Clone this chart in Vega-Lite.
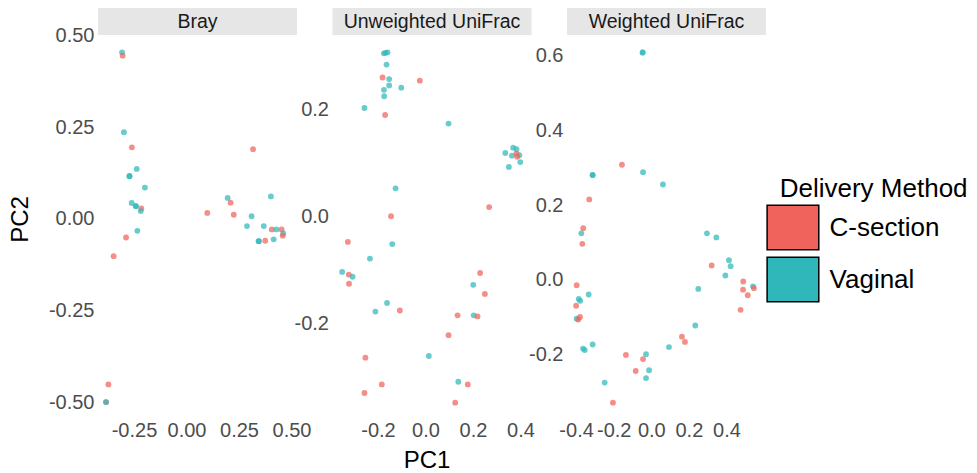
{
  "$schema": "https://vega.github.io/schema/vega-lite/v6.json",
  "padding": {"left": 8, "top": 8, "right": 0, "bottom": 6},
  "config": {
    "font": "Liberation Sans",
    "view": {"stroke": null},
    "axis": {"grid": false, "domain": false, "ticks": false, "tickSize": 0, "labelFontSize": 20, "labelColor": "#4d4d4d", "labelFont": "Liberation Sans", "titleFont": "Liberation Sans", "titleFontSize": 24, "titleColor": "#000000", "titleFontWeight": "normal", "labelOverlap": false, "labelFlush": false, "labelPadding": 4},
    "axisX": {"labelPadding": 0}
  },
  "datasets": {
    "panels": [{"metric": "Bray"}, {"metric": "Unweighted UniFrac"}, {"metric": "Weighted UniFrac"}],
    "pts": [
      {"metric": "Bray", "PC1": -0.307, "PC2": 0.454, "method": "Vaginal"},
      {"metric": "Bray", "PC1": -0.304, "PC2": 0.445, "method": "C-section"},
      {"metric": "Bray", "PC1": -0.298, "PC2": 0.236, "method": "Vaginal"},
      {"metric": "Bray", "PC1": -0.26, "PC2": 0.195, "method": "C-section"},
      {"metric": "Bray", "PC1": -0.272, "PC2": 0.116, "method": "Vaginal"},
      {"metric": "Bray", "PC1": -0.271, "PC2": 0.117, "method": "Vaginal"},
      {"metric": "Bray", "PC1": -0.237, "PC2": 0.136, "method": "Vaginal"},
      {"metric": "Bray", "PC1": -0.198, "PC2": 0.085, "method": "Vaginal"},
      {"metric": "Bray", "PC1": -0.261, "PC2": 0.043, "method": "Vaginal"},
      {"metric": "Bray", "PC1": -0.242, "PC2": 0.035, "method": "Vaginal"},
      {"metric": "Bray", "PC1": -0.24, "PC2": 0.034, "method": "Vaginal"},
      {"metric": "Bray", "PC1": -0.215, "PC2": 0.028, "method": "C-section"},
      {"metric": "Bray", "PC1": -0.218, "PC2": 0.021, "method": "Vaginal"},
      {"metric": "Bray", "PC1": -0.234, "PC2": -0.033, "method": "Vaginal"},
      {"metric": "Bray", "PC1": -0.288, "PC2": -0.051, "method": "C-section"},
      {"metric": "Bray", "PC1": -0.347, "PC2": -0.102, "method": "C-section"},
      {"metric": "Bray", "PC1": -0.372, "PC2": -0.452, "method": "C-section"},
      {"metric": "Bray", "PC1": -0.383, "PC2": -0.5, "method": "C-section"},
      {"metric": "Bray", "PC1": -0.383, "PC2": -0.5, "method": "Vaginal"},
      {"metric": "Bray", "PC1": 0.317, "PC2": 0.19, "method": "C-section"},
      {"metric": "Bray", "PC1": 0.099, "PC2": 0.016, "method": "C-section"},
      {"metric": "Bray", "PC1": 0.196, "PC2": 0.057, "method": "Vaginal"},
      {"metric": "Bray", "PC1": 0.21, "PC2": 0.044, "method": "C-section"},
      {"metric": "Bray", "PC1": 0.225, "PC2": 0.011, "method": "C-section"},
      {"metric": "Bray", "PC1": 0.402, "PC2": 0.061, "method": "Vaginal"},
      {"metric": "Bray", "PC1": 0.31, "PC2": 0.007, "method": "Vaginal"},
      {"metric": "Bray", "PC1": 0.288, "PC2": -0.02, "method": "Vaginal"},
      {"metric": "Bray", "PC1": 0.368, "PC2": -0.02, "method": "Vaginal"},
      {"metric": "Bray", "PC1": 0.406, "PC2": -0.029, "method": "C-section"},
      {"metric": "Bray", "PC1": 0.428, "PC2": -0.029, "method": "Vaginal"},
      {"metric": "Bray", "PC1": 0.453, "PC2": -0.029, "method": "C-section"},
      {"metric": "Bray", "PC1": 0.461, "PC2": -0.04, "method": "Vaginal"},
      {"metric": "Bray", "PC1": 0.458, "PC2": -0.046, "method": "C-section"},
      {"metric": "Bray", "PC1": 0.345, "PC2": -0.061, "method": "Vaginal"},
      {"metric": "Bray", "PC1": 0.343, "PC2": -0.061, "method": "Vaginal"},
      {"metric": "Bray", "PC1": 0.375, "PC2": -0.06, "method": "C-section"},
      {"metric": "Bray", "PC1": 0.415, "PC2": -0.056, "method": "Vaginal"},
      {"metric": "Unweighted UniFrac", "PC1": -0.175, "PC2": 0.305, "method": "Vaginal"},
      {"metric": "Unweighted UniFrac", "PC1": -0.168, "PC2": 0.306, "method": "Vaginal"},
      {"metric": "Unweighted UniFrac", "PC1": -0.16, "PC2": 0.307, "method": "Vaginal"},
      {"metric": "Unweighted UniFrac", "PC1": -0.164, "PC2": 0.284, "method": "Vaginal"},
      {"metric": "Unweighted UniFrac", "PC1": -0.181, "PC2": 0.26, "method": "C-section"},
      {"metric": "Unweighted UniFrac", "PC1": -0.024, "PC2": 0.254, "method": "C-section"},
      {"metric": "Unweighted UniFrac", "PC1": -0.153, "PC2": 0.257, "method": "Vaginal"},
      {"metric": "Unweighted UniFrac", "PC1": -0.153, "PC2": 0.245, "method": "Vaginal"},
      {"metric": "Unweighted UniFrac", "PC1": -0.175, "PC2": 0.237, "method": "Vaginal"},
      {"metric": "Unweighted UniFrac", "PC1": -0.102, "PC2": 0.241, "method": "Vaginal"},
      {"metric": "Unweighted UniFrac", "PC1": -0.174, "PC2": 0.225, "method": "Vaginal"},
      {"metric": "Unweighted UniFrac", "PC1": -0.257, "PC2": 0.203, "method": "Vaginal"},
      {"metric": "Unweighted UniFrac", "PC1": -0.17, "PC2": 0.19, "method": "C-section"},
      {"metric": "Unweighted UniFrac", "PC1": 0.097, "PC2": 0.174, "method": "Vaginal"},
      {"metric": "Unweighted UniFrac", "PC1": 0.336, "PC2": 0.119, "method": "Vaginal"},
      {"metric": "Unweighted UniFrac", "PC1": 0.369, "PC2": 0.129, "method": "Vaginal"},
      {"metric": "Unweighted UniFrac", "PC1": 0.383, "PC2": 0.126, "method": "Vaginal"},
      {"metric": "Unweighted UniFrac", "PC1": 0.364, "PC2": 0.114, "method": "Vaginal"},
      {"metric": "Unweighted UniFrac", "PC1": 0.395, "PC2": 0.115, "method": "Vaginal"},
      {"metric": "Unweighted UniFrac", "PC1": 0.383, "PC2": 0.118, "method": "C-section"},
      {"metric": "Unweighted UniFrac", "PC1": 0.386, "PC2": 0.112, "method": "C-section"},
      {"metric": "Unweighted UniFrac", "PC1": 0.399, "PC2": 0.102, "method": "Vaginal"},
      {"metric": "Unweighted UniFrac", "PC1": 0.351, "PC2": 0.093, "method": "Vaginal"},
      {"metric": "Unweighted UniFrac", "PC1": -0.126, "PC2": 0.053, "method": "Vaginal"},
      {"metric": "Unweighted UniFrac", "PC1": 0.268, "PC2": 0.018, "method": "C-section"},
      {"metric": "Unweighted UniFrac", "PC1": -0.145, "PC2": 0.001, "method": "C-section"},
      {"metric": "Unweighted UniFrac", "PC1": -0.327, "PC2": -0.047, "method": "C-section"},
      {"metric": "Unweighted UniFrac", "PC1": -0.14, "PC2": -0.051, "method": "Vaginal"},
      {"metric": "Unweighted UniFrac", "PC1": -0.234, "PC2": -0.078, "method": "Vaginal"},
      {"metric": "Unweighted UniFrac", "PC1": -0.351, "PC2": -0.103, "method": "Vaginal"},
      {"metric": "Unweighted UniFrac", "PC1": -0.323, "PC2": -0.108, "method": "C-section"},
      {"metric": "Unweighted UniFrac", "PC1": -0.307, "PC2": -0.112, "method": "Vaginal"},
      {"metric": "Unweighted UniFrac", "PC1": -0.322, "PC2": -0.125, "method": "C-section"},
      {"metric": "Unweighted UniFrac", "PC1": -0.162, "PC2": -0.161, "method": "Vaginal"},
      {"metric": "Unweighted UniFrac", "PC1": -0.211, "PC2": -0.177, "method": "Vaginal"},
      {"metric": "Unweighted UniFrac", "PC1": -0.108, "PC2": -0.175, "method": "C-section"},
      {"metric": "Unweighted UniFrac", "PC1": 0.23, "PC2": -0.105, "method": "C-section"},
      {"metric": "Unweighted UniFrac", "PC1": 0.201, "PC2": -0.127, "method": "Vaginal"},
      {"metric": "Unweighted UniFrac", "PC1": 0.25, "PC2": -0.144, "method": "C-section"},
      {"metric": "Unweighted UniFrac", "PC1": 0.135, "PC2": -0.184, "method": "C-section"},
      {"metric": "Unweighted UniFrac", "PC1": 0.203, "PC2": -0.184, "method": "Vaginal"},
      {"metric": "Unweighted UniFrac", "PC1": 0.219, "PC2": -0.186, "method": "C-section"},
      {"metric": "Unweighted UniFrac", "PC1": 0.097, "PC2": -0.221, "method": "C-section"},
      {"metric": "Unweighted UniFrac", "PC1": -0.253, "PC2": -0.263, "method": "C-section"},
      {"metric": "Unweighted UniFrac", "PC1": 0.014, "PC2": -0.26, "method": "Vaginal"},
      {"metric": "Unweighted UniFrac", "PC1": 0.138, "PC2": -0.308, "method": "Vaginal"},
      {"metric": "Unweighted UniFrac", "PC1": 0.178, "PC2": -0.313, "method": "C-section"},
      {"metric": "Unweighted UniFrac", "PC1": -0.184, "PC2": -0.313, "method": "C-section"},
      {"metric": "Unweighted UniFrac", "PC1": -0.257, "PC2": -0.329, "method": "C-section"},
      {"metric": "Unweighted UniFrac", "PC1": 0.125, "PC2": -0.347, "method": "C-section"},
      {"metric": "Weighted UniFrac", "PC1": -0.046, "PC2": 0.608, "method": "Vaginal"},
      {"metric": "Weighted UniFrac", "PC1": -0.046, "PC2": 0.61, "method": "Vaginal"},
      {"metric": "Weighted UniFrac", "PC1": -0.156, "PC2": 0.308, "method": "C-section"},
      {"metric": "Weighted UniFrac", "PC1": -0.312, "PC2": 0.281, "method": "Vaginal"},
      {"metric": "Weighted UniFrac", "PC1": -0.312, "PC2": 0.28, "method": "Vaginal"},
      {"metric": "Weighted UniFrac", "PC1": -0.044, "PC2": 0.288, "method": "Vaginal"},
      {"metric": "Weighted UniFrac", "PC1": 0.062, "PC2": 0.255, "method": "Vaginal"},
      {"metric": "Weighted UniFrac", "PC1": -0.33, "PC2": 0.215, "method": "C-section"},
      {"metric": "Weighted UniFrac", "PC1": -0.362, "PC2": 0.138, "method": "C-section"},
      {"metric": "Weighted UniFrac", "PC1": -0.372, "PC2": 0.124, "method": "Vaginal"},
      {"metric": "Weighted UniFrac", "PC1": 0.296, "PC2": 0.124, "method": "Vaginal"},
      {"metric": "Weighted UniFrac", "PC1": 0.346, "PC2": 0.113, "method": "Vaginal"},
      {"metric": "Weighted UniFrac", "PC1": -0.367, "PC2": 0.096, "method": "C-section"},
      {"metric": "Weighted UniFrac", "PC1": 0.413, "PC2": 0.052, "method": "Vaginal"},
      {"metric": "Weighted UniFrac", "PC1": 0.422, "PC2": 0.036, "method": "Vaginal"},
      {"metric": "Weighted UniFrac", "PC1": 0.321, "PC2": 0.038, "method": "C-section"},
      {"metric": "Weighted UniFrac", "PC1": 0.394, "PC2": 0.011, "method": "Vaginal"},
      {"metric": "Weighted UniFrac", "PC1": 0.489, "PC2": -0.005, "method": "C-section"},
      {"metric": "Weighted UniFrac", "PC1": 0.541, "PC2": -0.018, "method": "Vaginal"},
      {"metric": "Weighted UniFrac", "PC1": 0.488, "PC2": -0.027, "method": "C-section"},
      {"metric": "Weighted UniFrac", "PC1": 0.546, "PC2": -0.023, "method": "C-section"},
      {"metric": "Weighted UniFrac", "PC1": 0.513, "PC2": -0.042, "method": "C-section"},
      {"metric": "Weighted UniFrac", "PC1": 0.475, "PC2": -0.081, "method": "C-section"},
      {"metric": "Weighted UniFrac", "PC1": 0.25, "PC2": -0.025, "method": "Vaginal"},
      {"metric": "Weighted UniFrac", "PC1": -0.397, "PC2": -0.015, "method": "C-section"},
      {"metric": "Weighted UniFrac", "PC1": -0.333, "PC2": -0.04, "method": "Vaginal"},
      {"metric": "Weighted UniFrac", "PC1": -0.386, "PC2": -0.052, "method": "Vaginal"},
      {"metric": "Weighted UniFrac", "PC1": -0.378, "PC2": -0.057, "method": "Vaginal"},
      {"metric": "Weighted UniFrac", "PC1": -0.4, "PC2": -0.07, "method": "C-section"},
      {"metric": "Weighted UniFrac", "PC1": -0.397, "PC2": -0.105, "method": "Vaginal"},
      {"metric": "Weighted UniFrac", "PC1": -0.379, "PC2": -0.1, "method": "C-section"},
      {"metric": "Weighted UniFrac", "PC1": -0.388, "PC2": -0.107, "method": "C-section"},
      {"metric": "Weighted UniFrac", "PC1": -0.312, "PC2": -0.174, "method": "Vaginal"},
      {"metric": "Weighted UniFrac", "PC1": -0.363, "PC2": -0.185, "method": "Vaginal"},
      {"metric": "Weighted UniFrac", "PC1": -0.354, "PC2": -0.189, "method": "Vaginal"},
      {"metric": "Weighted UniFrac", "PC1": 0.234, "PC2": -0.123, "method": "Vaginal"},
      {"metric": "Weighted UniFrac", "PC1": 0.163, "PC2": -0.153, "method": "C-section"},
      {"metric": "Weighted UniFrac", "PC1": 0.179, "PC2": -0.167, "method": "C-section"},
      {"metric": "Weighted UniFrac", "PC1": 0.094, "PC2": -0.181, "method": "Vaginal"},
      {"metric": "Weighted UniFrac", "PC1": -0.135, "PC2": -0.202, "method": "C-section"},
      {"metric": "Weighted UniFrac", "PC1": -0.028, "PC2": -0.2, "method": "Vaginal"},
      {"metric": "Weighted UniFrac", "PC1": -0.044, "PC2": -0.213, "method": "C-section"},
      {"metric": "Weighted UniFrac", "PC1": -0.012, "PC2": -0.243, "method": "Vaginal"},
      {"metric": "Weighted UniFrac", "PC1": -0.083, "PC2": -0.245, "method": "C-section"},
      {"metric": "Weighted UniFrac", "PC1": -0.028, "PC2": -0.264, "method": "Vaginal"},
      {"metric": "Weighted UniFrac", "PC1": -0.248, "PC2": -0.276, "method": "Vaginal"},
      {"metric": "Weighted UniFrac", "PC1": -0.204, "PC2": -0.33, "method": "C-section"}
    ]
  },
  "columns": 3,
  "bounds": "flush",
  "spacing": {"row": 0, "column": 35.5},
  "concat": [
    {"width": 199, "height": 27, "data": {"name": "panels"}, "transform": [{"filter": "datum.metric === 'Bray'"}], "view": {"fill": "#e6e6e6", "stroke": null}, "mark": {"type": "text", "fontSize": 19.5, "color": "#1a1a1a", "font": "Liberation Sans"}, "encoding": {"text": {"field": "metric", "type": "nominal"}}},
    {"width": 199, "height": 27, "data": {"name": "panels"}, "transform": [{"filter": "datum.metric === 'Unweighted UniFrac'"}], "view": {"fill": "#e6e6e6", "stroke": null}, "mark": {"type": "text", "fontSize": 19.5, "color": "#1a1a1a", "font": "Liberation Sans"}, "encoding": {"text": {"field": "metric", "type": "nominal"}}},
    {"width": 199, "height": 27, "data": {"name": "panels"}, "transform": [{"filter": "datum.metric === 'Weighted UniFrac'"}], "view": {"fill": "#e6e6e6", "stroke": null}, "mark": {"type": "text", "fontSize": 19.5, "color": "#1a1a1a", "font": "Liberation Sans"}, "encoding": {"text": {"field": "metric", "type": "nominal"}}},
    {
      "width": 199, "height": 385,
      "data": {"name": "pts"},
      "transform": [{"filter": "datum.metric === 'Bray'"}],
      "mark": {"type": "circle", "size": 34, "opacity": 0.72},
      "encoding": {
        "x": {"field": "PC1", "type": "quantitative", "scale": {"domain": [-0.4214, 0.5262], "nice": false, "zero": false}, "axis": {"title": null, "values": [-0.25, 0, 0.25, 0.5], "labelExpr": "replace(format(datum.value, '.2f'), '\u2212', '-')"}},
        "y": {"field": "PC2", "type": "quantitative", "scale": {"domain": [-0.549, 0.5014], "nice": false, "zero": false}, "axis": {"title": "PC2", "titleY": 184, "titlePadding": 16, "values": [-0.5, -0.25, 0, 0.25, 0.5], "labelExpr": "replace(format(datum.value, '.2f'), '\u2212', '-')"}},
        "color": {"field": "method", "type": "nominal", "scale": {"domain": ["C-section", "Vaginal"], "range": ["#F0625C", "#30B7BA"]},
          "legend": {"orient": "none", "legendX": 681.7, "legendY": 167.5, "title": "Delivery Method", "titleLimit": 400, "titleFontSize": 26, "titleFontWeight": "normal", "titleColor": "#000000", "titleFont": "Liberation Sans", "titlePadding": 3, "labelFontSize": 26, "labelLimit": 300, "labelColor": "#000000", "labelFont": "Liberation Sans", "labelOffset": 13.6, "symbolType": "M-1.164,-1H1.164V1H-1.164Z", "symbolSize": 1971, "symbolOpacity": 1, "symbolOffset": -9.75, "rowPadding": 0,
            "encode": {"symbols": {"update": {"stroke": {"value": "#000000"}, "strokeWidth": {"value": 1.5}, "opacity": {"value": 1}}}}}}
      }
    },
    {
      "width": 199, "height": 385,
      "data": {"name": "pts"},
      "transform": [{"filter": "datum.metric === 'Unweighted UniFrac'"}],
      "mark": {"type": "circle", "size": 34, "opacity": 0.72},
      "encoding": {
        "x": {"field": "PC1", "type": "quantitative", "scale": {"domain": [-0.3916, 0.4463], "nice": false, "zero": false}, "axis": {"title": "PC1", "titleX": 94, "titlePadding": 8, "values": [-0.2, 0, 0.2, 0.4], "labelExpr": "replace(format(datum.value, '.1f'), '\u2212', '-')"}},
        "y": {"field": "PC2", "type": "quantitative", "scale": {"domain": [-0.3794, 0.3393], "nice": false, "zero": false}, "axis": {"title": null, "values": [-0.2, 0, 0.2], "labelExpr": "replace(format(datum.value, '.1f'), '\u2212', '-')"}},
        "color": {"field": "method", "type": "nominal", "scale": {"domain": ["C-section", "Vaginal"], "range": ["#F0625C", "#30B7BA"]},
          "legend": {"orient": "none", "legendX": 681.7, "legendY": 167.5, "title": "Delivery Method", "titleLimit": 400, "titleFontSize": 26, "titleFontWeight": "normal", "titleColor": "#000000", "titleFont": "Liberation Sans", "titlePadding": 3, "labelFontSize": 26, "labelLimit": 300, "labelColor": "#000000", "labelFont": "Liberation Sans", "labelOffset": 13.6, "symbolType": "M-1.164,-1H1.164V1H-1.164Z", "symbolSize": 1971, "symbolOpacity": 1, "symbolOffset": -9.75, "rowPadding": 0,
            "encode": {"symbols": {"update": {"stroke": {"value": "#000000"}, "strokeWidth": {"value": 1.5}, "opacity": {"value": 1}}}}}}
      }
    },
    {
      "width": 199, "height": 385,
      "data": {"name": "pts"},
      "transform": [{"filter": "datum.metric === 'Weighted UniFrac'"}],
      "mark": {"type": "circle", "size": 34, "opacity": 0.72},
      "encoding": {
        "x": {"field": "PC1", "type": "quantitative", "scale": {"domain": [-0.4484, 0.6101], "nice": false, "zero": false}, "axis": {"title": null, "values": [-0.4, -0.2, 0, 0.2, 0.4], "labelExpr": "replace(format(datum.value, '.1f'), '\u2212', '-')"}},
        "y": {"field": "PC2", "type": "quantitative", "scale": {"domain": [-0.3764, 0.6558], "nice": false, "zero": false}, "axis": {"title": null, "values": [-0.2, 0, 0.2, 0.4, 0.6], "labelExpr": "replace(format(datum.value, '.1f'), '\u2212', '-')"}},
        "color": {"field": "method", "type": "nominal", "scale": {"domain": ["C-section", "Vaginal"], "range": ["#F0625C", "#30B7BA"]},
          "legend": {"orient": "none", "legendX": 681.7, "legendY": 167.5, "title": "Delivery Method", "titleLimit": 400, "titleFontSize": 26, "titleFontWeight": "normal", "titleColor": "#000000", "titleFont": "Liberation Sans", "titlePadding": 3, "labelFontSize": 26, "labelLimit": 300, "labelColor": "#000000", "labelFont": "Liberation Sans", "labelOffset": 13.6, "symbolType": "M-1.164,-1H1.164V1H-1.164Z", "symbolSize": 1971, "symbolOpacity": 1, "symbolOffset": -9.75, "rowPadding": 0,
            "encode": {"symbols": {"update": {"stroke": {"value": "#000000"}, "strokeWidth": {"value": 1.5}, "opacity": {"value": 1}}}}}}
      }
    }
  ]
}
